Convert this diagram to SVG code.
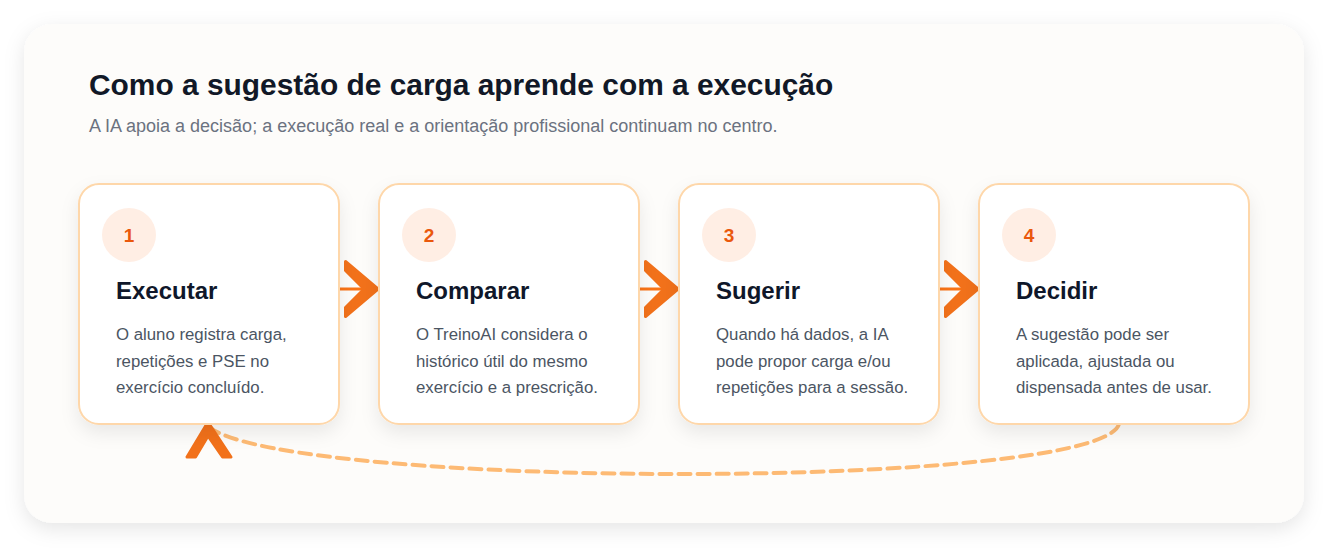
<svg xmlns="http://www.w3.org/2000/svg" width="1328" height="555" viewBox="0 0 1328 555">
<style>
.title{font-family:"Liberation Sans",Arial,sans-serif;font-weight:700;font-size:29.9px;fill:#111827}
.sub{font-family:"Liberation Sans",Arial,sans-serif;font-size:18px;fill:#6b7280}
.card{fill:#ffffff;stroke:#fed7aa;stroke-width:2}
.badge{fill:#ffeee4}
.num{font-family:"Liberation Sans",Arial,sans-serif;font-weight:700;font-size:19px;fill:#ea580c;text-anchor:middle}
.ct{font-family:"Liberation Sans",Arial,sans-serif;font-weight:700;font-size:24px;fill:#0f172a}
.body{font-family:"Liberation Sans",Arial,sans-serif;font-size:16.8px;fill:#4b5563}
.flow{stroke:#f97316;stroke-width:3;fill:none}
.loop{stroke:#fdba74;stroke-width:4;fill:none;stroke-dasharray:12 7;stroke-linecap:round}
.head{fill:#f2711a;stroke:#f2711a;stroke-width:3;stroke-linejoin:round}
</style>
<defs>
<filter id="panelShadow" x="-10%" y="-15%" width="120%" height="135%">
<feDropShadow dx="0" dy="6" stdDeviation="10" flood-color="#000" flood-opacity="0.10"/>
</filter>
<filter id="cardShadow" x="-20%" y="-20%" width="140%" height="150%">
<feDropShadow dx="0" dy="8" stdDeviation="9" flood-color="#000" flood-opacity="0.08"/>
</filter>
<marker id="chev" markerUnits="userSpaceOnUse" viewBox="-40 -35 46 70" refX="0" refY="0" markerWidth="46" markerHeight="70" orient="auto" overflow="visible">
<path class="head" d="M-32.5,-27.5 L0,0 L-32.5,27.5 L-32.5,18.5 L-14,0 L-32.5,-18.5 Z"/>
</marker>
<marker id="chevUp" markerUnits="userSpaceOnUse" viewBox="-30 -10 60 50" refX="0" refY="0" markerWidth="60" markerHeight="50" orient="0" overflow="visible">
<path class="head" d="M-21,33 L0,-2 L23,33 L14.5,33 L0,12 L-12.5,33 Z"/>
</marker>
</defs>
<rect x="0" y="0" width="1328" height="555" fill="#ffffff"/>
<rect x="24" y="24" width="1280" height="499" rx="28" fill="#fdfcfa" filter="url(#panelShadow)"/>
<text class="title" x="89" y="95">Como a sugestão de carga aprende com a execução</text>
<text class="sub" x="89" y="132">A IA apoia a decisão; a execução real e a orientação profissional continuam no centro.</text>
<g id="connectors">
<path class="flow" d="M339,289 L378,289" marker-end="url(#chev)"/>
<path class="flow" d="M639,289 L678,289" marker-end="url(#chev)"/>
<path class="flow" d="M939,289 L978,289" marker-end="url(#chev)"/>
<path class="loop" d="M1119,424 C1100,490 300,490 210,428"/>
<path d="M208,450 L208,424" fill="none" stroke="none" marker-end="url(#chevUp)"/>
</g>
<g id="node1">
<rect class="card" x="79" y="184" width="260" height="240" rx="20" filter="url(#cardShadow)"/>
<circle class="badge" cx="129" cy="235" r="27"/>
<text class="num" x="129" y="242">1</text>
<text class="ct" x="116" y="299">Executar</text>
<text class="body" x="116" y="340">O aluno registra carga,</text>
<text class="body" x="116" y="367">repetições e PSE no</text>
<text class="body" x="116" y="393">exercício concluído.</text>
</g>
<g id="node2">
<rect class="card" x="379" y="184" width="260" height="240" rx="20" filter="url(#cardShadow)"/>
<circle class="badge" cx="429" cy="235" r="27"/>
<text class="num" x="429" y="242">2</text>
<text class="ct" x="416" y="299">Comparar</text>
<text class="body" x="416" y="340">O TreinoAI considera o</text>
<text class="body" x="416" y="367">histórico útil do mesmo</text>
<text class="body" x="416" y="393">exercício e a prescrição.</text>
</g>
<g id="node3">
<rect class="card" x="679" y="184" width="260" height="240" rx="20" filter="url(#cardShadow)"/>
<circle class="badge" cx="729" cy="235" r="27"/>
<text class="num" x="729" y="242">3</text>
<text class="ct" x="716" y="299">Sugerir</text>
<text class="body" x="716" y="340">Quando há dados, a IA</text>
<text class="body" x="716" y="367">pode propor carga e/ou</text>
<text class="body" x="716" y="393">repetições para a sessão.</text>
</g>
<g id="node4">
<rect class="card" x="979" y="184" width="270" height="240" rx="20" filter="url(#cardShadow)"/>
<circle class="badge" cx="1029" cy="235" r="27"/>
<text class="num" x="1029" y="242">4</text>
<text class="ct" x="1016" y="299">Decidir</text>
<text class="body" x="1016" y="340">A sugestão pode ser</text>
<text class="body" x="1016" y="367">aplicada, ajustada ou</text>
<text class="body" x="1016" y="393">dispensada antes de usar.</text>
</g>
</svg>
